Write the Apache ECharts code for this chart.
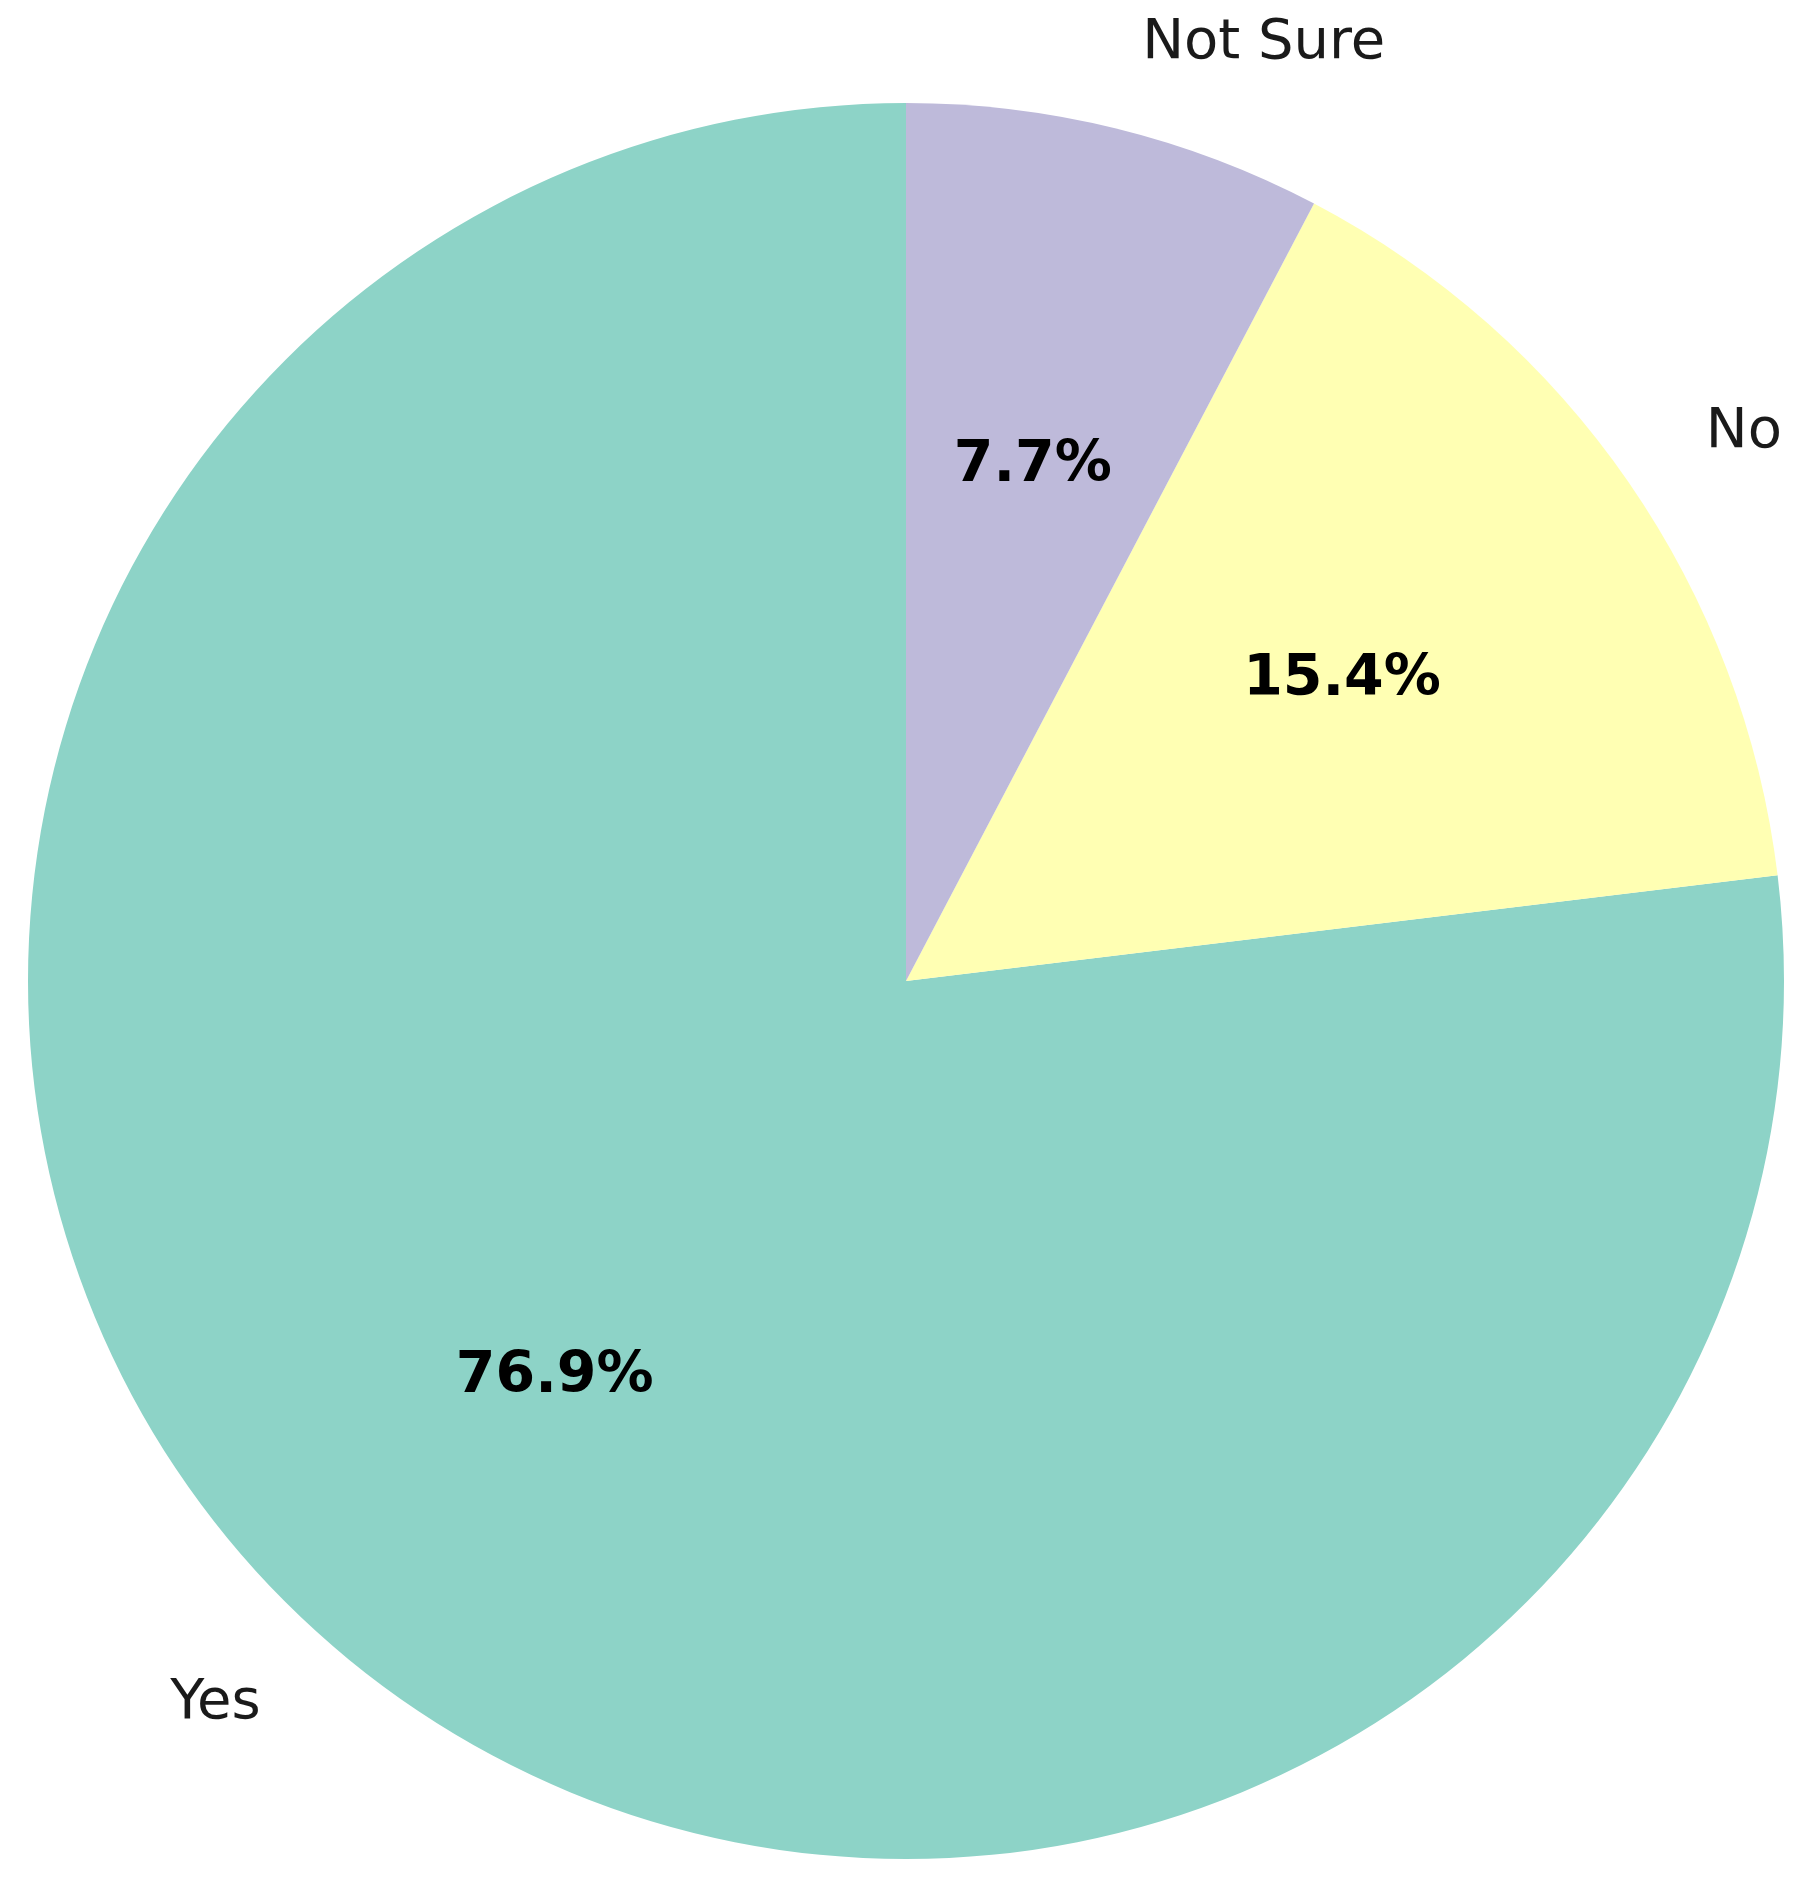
<!DOCTYPE html>
<html>
<head>
<meta charset="utf-8">
<script src="https://cdn.jsdelivr.net/npm/echarts@6/dist/echarts.min.js"></script>
<style>
html,body{margin:0;padding:0;background:#fff;}
#chart{width:1795px;height:1880px;}
</style>
</head>
<body>
<div id="chart"></div>
<script>
const categories = ['Yes', 'No', 'Not Sure'];
const values = [10, 2, 1];
const colors = ['#8dd3c7', '#ffffb3', '#bebada'];

const R = 878;
const data = categories.map((c, i) => ({ name: c, value: values[i], itemStyle: { color: colors[i] } }));
const total = values.reduce((a, b) => a + b, 0);

const chart = echarts.init(document.getElementById('chart'), null, { renderer: 'canvas' });
chart.setOption({
  backgroundColor: '#ffffff',
  animation: false,
  series: [
    {
      type: 'pie',
      center: [906, 981],
      radius: [0, R],
      startAngle: 90,
      clockwise: false,
      avoidLabelOverlap: false,
      silent: true,
      data: data,
      label: {
        show: true,
        position: 'outside',
        formatter: '{b}',
        fontFamily: 'DejaVu Sans',
        fontSize: 56,
        color: '#1a1a1a'
      },
      labelLine: { show: false, length: R * 0.1, length2: 0 }
    },
    {
      type: 'pie',
      center: [906, 981],
      radius: [0, R * 1.2],
      startAngle: 90,
      clockwise: false,
      avoidLabelOverlap: false,
      silent: true,
      data: categories.map((c, i) => ({ name: c, value: values[i], itemStyle: { color: 'rgba(0,0,0,0)' } })),
      label: {
        show: true,
        position: 'inside',
        formatter: p => (p.value / total * 100).toFixed(1) + '%',
        fontFamily: 'DejaVu Sans',
        fontWeight: 'bold',
        fontSize: 57,
        color: '#000000'
      },
      labelLine: { show: false }
    }
  ]
});
</script>
</body>
</html>
